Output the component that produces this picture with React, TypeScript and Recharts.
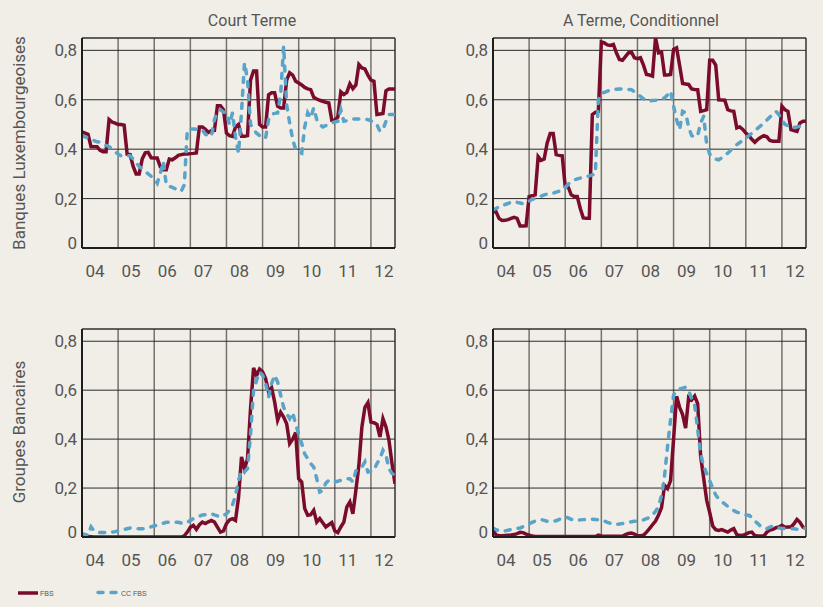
import React from 'react';
import { LineChart, Line, XAxis, YAxis, CartesianGrid, ReferenceArea } from 'recharts';

// monthly observations, Jan 2004 .. Sep 2012
const START_YEAR = 2004;
const months = Array.from({ length: 105 }, (_, i) => START_YEAR + i / 12);
const END = months[months.length - 1];
const yearTicks = [2004, 2005, 2006, 2007, 2008, 2009, 2010, 2011, 2012];
const valueTicks = [0, 0.2, 0.4, 0.6, 0.8];

const titles = ['Court Terme', 'A Terme, Conditionnel'];
const rowLabels = ['Banques Luxembourgeoises', 'Groupes Bancaires'];
const seriesNames = ['FBS', 'CC FBS'];

// Banques Luxembourgeoises - Court Terme
const bankShortFbs = [
  0.47, 0.465, 0.46, 0.41, 0.41, 0.41, 0.395, 0.39, 0.39, 0.52, 0.51, 0.505,
  0.5, 0.5, 0.497, 0.38, 0.378, 0.33, 0.3, 0.3, 0.36, 0.385, 0.387, 0.365,
  0.364, 0.364, 0.33, 0.317, 0.317, 0.36, 0.357, 0.365, 0.375, 0.378, 0.38, 0.38,
  0.382, 0.383, 0.385, 0.49, 0.49, 0.48, 0.468, 0.475, 0.476, 0.576, 0.576, 0.56,
  0.465, 0.455, 0.452, 0.49, 0.5, 0.452, 0.452, 0.455, 0.68, 0.716, 0.716, 0.5,
  0.49, 0.49, 0.62, 0.628, 0.628, 0.574, 0.567, 0.567, 0.68, 0.709, 0.7, 0.675,
  0.668, 0.66, 0.65, 0.644, 0.641, 0.61, 0.603, 0.598, 0.594, 0.59, 0.587, 0.517,
  0.517, 0.53, 0.632, 0.621, 0.63, 0.665, 0.645, 0.66, 0.743, 0.729, 0.725, 0.7,
  0.68, 0.675, 0.54, 0.542, 0.544, 0.636, 0.644, 0.644, 0.644,
];
const bankShortCc = [
  0.455, 0.45, 0.445, 0.44, 0.435, 0.43, 0.428, 0.42, 0.415, 0.41, 0.4, 0.39,
  0.38, 0.373, 0.373, 0.373, 0.373, 0.36, 0.345, 0.33, 0.32, 0.31, 0.3, 0.29,
  0.28, 0.262, 0.3, 0.35, 0.256, 0.25, 0.245, 0.24, 0.233, 0.23, 0.256, 0.48,
  0.482, 0.482, 0.48, 0.479, 0.479, 0.46, 0.455, 0.452, 0.52, 0.55, 0.56, 0.55,
  0.547, 0.5, 0.547, 0.45, 0.384, 0.55, 0.75, 0.68, 0.5, 0.479, 0.465, 0.455,
  0.445, 0.445, 0.52, 0.54, 0.545, 0.547, 0.62, 0.817, 0.58, 0.506, 0.44, 0.398,
  0.39, 0.384, 0.49, 0.547, 0.526, 0.567, 0.52, 0.5, 0.49, 0.495, 0.5, 0.506,
  0.51, 0.513, 0.56, 0.513, 0.515, 0.518, 0.522, 0.522, 0.522, 0.521, 0.52, 0.52,
  0.515, 0.505, 0.5, 0.472, 0.48, 0.513, 0.54, 0.54, 0.54,
];

// Banques Luxembourgeoises - A Terme, Conditionnel
const bankTermFbs = [
  0.147, 0.147, 0.12, 0.111, 0.112, 0.115, 0.12, 0.124, 0.12, 0.089, 0.089, 0.09,
  0.208, 0.212, 0.215, 0.37, 0.355, 0.36, 0.425, 0.463, 0.463, 0.378, 0.375, 0.373,
  0.249, 0.246, 0.215, 0.208, 0.208, 0.16, 0.122, 0.12, 0.12, 0.54, 0.549, 0.553,
  0.834, 0.83, 0.822, 0.82, 0.824, 0.79, 0.763, 0.76, 0.775, 0.79, 0.793, 0.77,
  0.766, 0.77, 0.74, 0.702, 0.7, 0.696, 0.851, 0.79, 0.793, 0.7, 0.7, 0.702,
  0.804, 0.81, 0.74, 0.666, 0.664, 0.662, 0.644, 0.642, 0.641, 0.553, 0.556, 0.56,
  0.76, 0.76, 0.74, 0.6, 0.599, 0.598, 0.56, 0.555, 0.553, 0.486, 0.49, 0.48,
  0.465, 0.455, 0.44, 0.428, 0.44, 0.448, 0.455, 0.45, 0.435, 0.432, 0.432, 0.432,
  0.574, 0.56, 0.553, 0.479, 0.475, 0.472, 0.506, 0.513, 0.513,
];
const bankTermCc = [
  0.154, 0.16, 0.167, 0.172, 0.176, 0.18, 0.185, 0.188, 0.185, 0.182, 0.179, 0.185,
  0.19, 0.197, 0.2, 0.205, 0.21, 0.215, 0.218, 0.22, 0.222, 0.226, 0.23, 0.235,
  0.245, 0.258, 0.27, 0.275, 0.28, 0.283, 0.286, 0.289, 0.292, 0.296, 0.3, 0.6,
  0.625, 0.63, 0.635, 0.638, 0.641, 0.643, 0.644, 0.644, 0.643, 0.642, 0.641, 0.632,
  0.622, 0.614, 0.604, 0.594, 0.595, 0.597, 0.598, 0.6, 0.604, 0.607, 0.62, 0.635,
  0.574, 0.52, 0.479, 0.553, 0.547, 0.49, 0.455, 0.449, 0.455, 0.506, 0.533, 0.42,
  0.38, 0.371, 0.36, 0.357, 0.365, 0.375, 0.384, 0.396, 0.407, 0.418, 0.427, 0.436,
  0.445, 0.455, 0.465, 0.475, 0.485, 0.495, 0.506, 0.518, 0.53, 0.542, 0.553, 0.54,
  0.52, 0.5, 0.495, 0.486, 0.488, 0.49, 0.493, 0.495, 0.495,
];

// Groupes Bancaires - Court Terme
const groupShortFbs = [
  0.005, 0.003, 0.002, 0.001, 0, 0, 0, 0, 0, 0, 0, 0,
  0, 0, 0, 0, 0, 0, 0, 0, 0, 0, 0, 0,
  0, 0, 0, 0, 0, 0, 0, 0, 0, 0, 0.005, 0.02,
  0.04, 0.048, 0.031, 0.05, 0.061, 0.055, 0.062, 0.068, 0.061, 0.04, 0.02, 0.025,
  0.055, 0.07, 0.075, 0.068, 0.16, 0.327, 0.279, 0.32, 0.525, 0.691, 0.66, 0.686,
  0.675, 0.647, 0.593, 0.61, 0.552, 0.477, 0.51, 0.49, 0.463, 0.382, 0.4, 0.427,
  0.238, 0.225, 0.116, 0.089, 0.091, 0.109, 0.061, 0.075, 0.058, 0.041, 0.05, 0.059,
  0.025, 0.018, 0.041, 0.061, 0.123, 0.143, 0.095, 0.191, 0.293, 0.45, 0.53, 0.549,
  0.47, 0.467, 0.46, 0.409, 0.484, 0.45, 0.395, 0.3, 0.218,
];
const groupShortCc = [
  0.014, 0.01, 0.007, 0.041, 0.025, 0.02, 0.018, 0.018, 0.018, 0.02, 0.02, 0.022,
  0.025, 0.027, 0.03, 0.034, 0.037, 0.036, 0.034, 0.034, 0.034, 0.034, 0.038, 0.042,
  0.045, 0.048, 0.052, 0.056, 0.06, 0.061, 0.061, 0.061, 0.06, 0.057, 0.055, 0.06,
  0.068, 0.075, 0.08, 0.085, 0.09, 0.091, 0.093, 0.095, 0.09, 0.086, 0.082, 0.088,
  0.095, 0.11, 0.13, 0.17, 0.23, 0.273, 0.266, 0.28, 0.42, 0.6, 0.64, 0.675,
  0.661, 0.627, 0.572, 0.627, 0.661, 0.634, 0.58, 0.53, 0.504, 0.484, 0.508, 0.46,
  0.42, 0.382, 0.34, 0.32, 0.3, 0.286, 0.238, 0.184, 0.19, 0.22, 0.232, 0.228,
  0.225, 0.228, 0.232, 0.235, 0.238, 0.238, 0.225, 0.27, 0.28, 0.286, 0.307, 0.266,
  0.268, 0.272, 0.3, 0.32, 0.354, 0.334, 0.279, 0.26, 0.252,
];

// Groupes Bancaires - A Terme, Conditionnel
const groupTermFbs = [
  0.03, 0.008, 0.005, 0.005, 0.006, 0.007, 0.008, 0.01, 0.014, 0.019, 0.018, 0.012,
  0.008, 0.004, 0.002, 0.002, 0.002, 0.002, 0.002, 0.002, 0.002, 0.002, 0.002, 0.002,
  0.002, 0.002, 0.002, 0.002, 0.002, 0.002, 0.002, 0.002, 0.002, 0.002, 0.002, 0.008,
  0.004, 0.003, 0.003, 0.003, 0.003, 0.003, 0.003, 0.003, 0.01, 0.014, 0.016, 0.012,
  0.005, 0.005, 0.007, 0.02, 0.034, 0.05, 0.065, 0.09, 0.12, 0.211, 0.198, 0.23,
  0.4, 0.575, 0.53, 0.5, 0.445, 0.57, 0.56, 0.576, 0.545, 0.33, 0.24, 0.15,
  0.1, 0.045, 0.03, 0.027, 0.03, 0.025, 0.02, 0.028, 0.034, 0.01, 0.006, 0.007,
  0.012, 0.018, 0.02, 0.006, 0.004, 0.004, 0.004, 0.02, 0.028, 0.031, 0.038, 0.041,
  0.048, 0.04, 0.041, 0.041, 0.054, 0.072, 0.06, 0.04, 0.035,
];
const groupTermCc = [
  0.037, 0.03, 0.025, 0.023, 0.025, 0.028, 0.03, 0.032, 0.035, 0.037, 0.042, 0.048,
  0.054, 0.06, 0.065, 0.069, 0.071, 0.068, 0.064, 0.064, 0.064, 0.066, 0.072, 0.078,
  0.082, 0.078, 0.072, 0.068, 0.069, 0.07, 0.071, 0.072, 0.073, 0.073, 0.072, 0.07,
  0.068, 0.065, 0.06, 0.056, 0.053, 0.052, 0.053, 0.055, 0.058, 0.06, 0.062, 0.064,
  0.066, 0.068, 0.07, 0.075, 0.08, 0.09, 0.105, 0.123, 0.17, 0.25, 0.37, 0.48,
  0.58, 0.598, 0.605, 0.608, 0.612, 0.6, 0.565, 0.54, 0.44, 0.34, 0.29, 0.26,
  0.23, 0.2, 0.172, 0.155, 0.145, 0.135, 0.125, 0.115, 0.108, 0.102, 0.098, 0.094,
  0.09, 0.089, 0.08, 0.065, 0.055, 0.042, 0.038, 0.034, 0.04, 0.045, 0.04, 0.037,
  0.035, 0.034, 0.034, 0.034, 0.034, 0.032, 0.031, 0.034, 0.037,
];

const BG = '#f1eee7';
const RED = '#7b0b2b';
const BLUE = '#5aa3c9';
const TEXT = '#555555';
const FONT = 'Roboto, "DejaVu Sans", sans-serif';

const buildRows = (fbs: number[], cc: number[]) =>
  months.map((t, i) => ({ t, fbs: fbs[i], cc: cc[i] }));

const XTick = ({ x, y, payload }: any) => (
  <text x={x + 13} y={y + 29} textAnchor="middle" fill={TEXT} fontSize={17} fontFamily={FONT}>
    {String(payload.value).slice(2)}
  </text>
);

const YTick = ({ x, y, payload }: any) => (
  <text x={x} y={payload.value === 0 ? y + 1 : y + 6} textAnchor="end" fill={TEXT} fontSize={17} fontFamily={FONT}>
    {payload.value === 0 ? '0' : payload.value.toFixed(1).replace('.', ',')}
  </text>
);

function Panel({ fbs, cc, left, top, height }: { fbs: number[]; cc: number[]; left: number; top: number; height: number }) {
  const data = buildRows(fbs, cc);
  return (
    <div style={{ position: 'absolute', left, top }}>
      <LineChart width={410} height={height} data={data} margin={{ top: 38, right: 15, bottom: 0, left: 0 }}>
        <CartesianGrid horizontal={false} stroke="#75716b" strokeWidth={1.5} />
        <CartesianGrid vertical={false} stroke="#2a2a2a" strokeWidth={1} />
        <ReferenceArea x1={START_YEAR} x2={END} y1={0} y2={0.85} fill="none" stroke="#333" strokeWidth={1} ifOverflow="visible" />
        <XAxis
          type="number"
          dataKey="t"
          domain={[START_YEAR, END]}
          ticks={yearTicks}
          interval={0}
          tickLine={false}
          tickSize={0}
          tickMargin={0}
          height={42}
          axisLine={{ stroke: '#1e1e1e', strokeWidth: 2 }}
          tick={<XTick />}
          allowDataOverflow
        />
        <YAxis
          domain={[0, 0.85]}
          ticks={valueTicks}
          interval={0}
          width={82}
          tickLine={false}
          tickSize={0}
          tickMargin={5}
          axisLine={{ stroke: '#1e1e1e', strokeWidth: 2 }}
          tick={<YTick />}
          allowDataOverflow
        />
        <Line type="linear" dataKey="fbs" name={seriesNames[0]} stroke={RED} strokeWidth={3.5} dot={false} isAnimationActive={false} />
        <Line
          type="linear"
          dataKey="cc"
          name={seriesNames[1]}
          stroke={BLUE}
          strokeWidth={3.5}
          strokeDasharray="5 8"
          strokeLinecap="round"
          dot={false}
          isAnimationActive={false}
        />
      </LineChart>
    </div>
  );
}

export default function App() {
  return (
    <div style={{ position: 'absolute', left: 0, top: 0, width: 823, height: 607, background: BG, overflow: 'hidden' }}>
      <svg width={823} height={607} style={{ position: 'absolute', left: 0, top: 0 }}>
        <text x={252} y={26} textAnchor="middle" fill={TEXT} fontSize={16} fontFamily={FONT}>{titles[0]}</text>
        <text x={641} y={26} textAnchor="middle" fill={TEXT} fontSize={16} fontFamily={FONT}>{titles[1]}</text>
        <text x={25} y={143} transform="rotate(-90 25 143)" textAnchor="middle" fill={TEXT} fontSize={17} fontFamily={FONT}>{rowLabels[0]}</text>
        <text x={25} y={432} transform="rotate(-90 25 432)" textAnchor="middle" fill={TEXT} fontSize={17} fontFamily={FONT}>{rowLabels[1]}</text>
        <line x1={18} y1={593} x2={38} y2={593} stroke={RED} strokeWidth={3.5} />
        <text x={40} y={595.5} fill={TEXT} fontSize={7} fontFamily='"Liberation Sans", Arial, sans-serif'>{seriesNames[0]}</text>
        <line x1={98} y1={592.5} x2={118} y2={592.5} stroke={BLUE} strokeWidth={3.5} strokeDasharray="5 8" strokeLinecap="round" />
        <text x={121} y={595.5} fill={TEXT} fontSize={7} fontFamily='"Liberation Sans", Arial, sans-serif'>{seriesNames[1]}</text>
      </svg>
      <Panel fbs={bankShortFbs} cc={bankShortCc} left={0} top={0} height={290} />
      <Panel fbs={bankTermFbs} cc={bankTermCc} left={411} top={0} height={290} />
      <Panel fbs={groupShortFbs} cc={groupShortCc} left={0} top={291} height={288} />
      <Panel fbs={groupTermFbs} cc={groupTermCc} left={411} top={291} height={288} />
    </div>
  );
}
